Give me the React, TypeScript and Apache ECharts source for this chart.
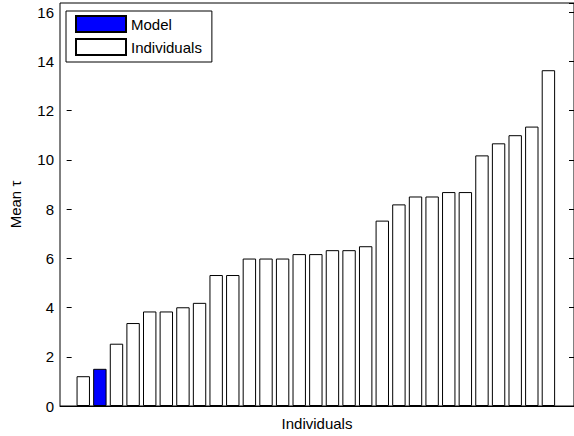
import React, { useEffect, useRef } from "react";
import * as echarts from "echarts";

const positions: number[] = [1,2,3,4,5,6,7,8,9,10,11,12,13,14,15,16,17,18,19,20,21,22,23,24,25,26,27,28,29];
const values: number[] = [1.21, 1.51, 2.53, 3.37, 3.84, 3.84, 4.01, 4.19, 5.32, 5.32, 5.99, 5.99, 5.99, 6.17, 6.17, 6.33, 6.33, 6.49, 7.53, 8.19, 8.51, 8.51, 8.69, 8.69, 10.18, 10.67, 11.0, 11.35, 13.64];
const modelIndex = 1;
const seriesNames: string[] = ["Model", "Individuals"];
const yTicks: number[] = [0, 2, 4, 6, 8, 10, 12, 14, 16];
const xLabel = "Individuals";
const yLabel = "Mean τ";

const FONT = "'Liberation Sans', Arial, Helvetica, sans-serif";

export default function App() {
  const ref = useRef<HTMLDivElement>(null);
  useEffect(() => {
    if (!ref.current) return;
    const chart = echarts.init(ref.current, null, { renderer: "svg" });
    const modelData = positions.map((p, i) => (i === modelIndex ? [p, values[i]] : [p, null]));
    const indivData = positions.map((p, i) => (i === modelIndex ? [p, null] : [p, values[i]]));
    const yMax = 16.37;
    const yAxisCommon = {
      type: "value" as const,
      min: 0,
      max: yMax,
      interval: 2,
      splitLine: { show: false },
      axisLine: { show: false },
      axisTick: { show: true, inside: true, length: 5, lineStyle: { color: "#000", width: 1 } },
    };
    chart.setOption({
      animation: false,
      backgroundColor: "#fff",
      textStyle: { fontFamily: FONT },
      grid: {
        left: 58,
        right: -1,
        top: 3,
        bottom: 28,
        show: true,
        borderColor: "#000",
        borderWidth: 1,
        backgroundColor: "transparent",
      },
      legend: {
        data: seriesNames,
        orient: "vertical",
        left: 66,
        top: 11,
        icon: "rect",
        itemWidth: 50,
        itemHeight: 16,
        itemGap: 5,
        padding: [4, 10, 6, 9],
        borderColor: "#000",
        borderWidth: 1,
        backgroundColor: "#fff",
        borderRadius: 0,
        textStyle: { fontSize: 15, color: "#000", fontFamily: FONT },
      },
      xAxis: {
        type: "value",
        min: -0.4,
        max: 30.54,
        name: xLabel,
        nameLocation: "middle",
        nameGap: 10,
        nameTextStyle: { fontSize: 15, color: "#000", fontFamily: FONT, verticalAlign: "top" },
        axisLine: { show: true, lineStyle: { color: "#000", width: 1 } },
        axisTick: { show: false },
        axisLabel: { show: false },
        splitLine: { show: false },
      },
      yAxis: [
        {
          ...yAxisCommon,
          position: "left",
          name: yLabel,
          nameLocation: "middle",
          nameGap: 37,
          nameTextStyle: { fontSize: 15, color: "#000", fontFamily: FONT },
          axisLabel: {
            show: true,
            fontSize: 15,
            color: "#000",
            fontFamily: FONT,
            margin: 6,
            showMaxLabel: false,
            formatter: (v: number) => (yTicks.includes(v) ? String(v) : ""),
          },
        },
        {
          ...yAxisCommon,
          position: "right",
          axisLabel: { show: false },
        },
      ],
      series: [
        {
          name: seriesNames[0],
          type: "bar",
          data: modelData,
          barWidth: 13.4,
          barGap: "-100%",
          itemStyle: { color: "#0000ff", borderColor: "#000", borderWidth: 1 },
        },
        {
          name: seriesNames[1],
          type: "bar",
          data: indivData,
          barWidth: 13.4,
          barGap: "-100%",
          itemStyle: { color: "#ffffff", borderColor: "#000", borderWidth: 1 },
        },
      ],
    });
    return () => chart.dispose();
  }, []);
  return (
    <div
      ref={ref}
      style={{ position: "fixed", left: 0, top: 0, width: 574, height: 436, background: "#fff" }}
    />
  );
}
